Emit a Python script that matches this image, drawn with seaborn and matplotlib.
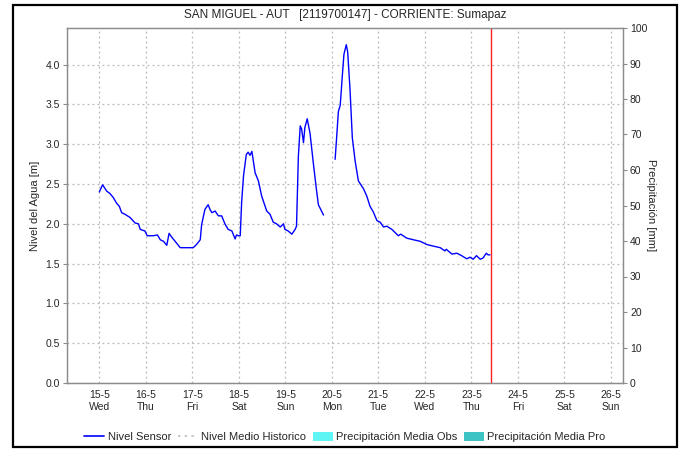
import numpy as np
import pandas as pd
import matplotlib
matplotlib.use("Agg")
import matplotlib.pyplot as plt
from matplotlib.lines import Line2D
from matplotlib.patches import Patch, Rectangle
import seaborn as sns

# Nivel sensor: days since 15-5 00:00, level in m (two segments, gap on 19/20-5)
DAYS_1 = [0.00, 0.07, 0.16, 0.23, 0.30, 0.37, 0.43, 0.48, 0.55, 0.66, 0.77, 0.84,
          0.88, 0.98, 1.03, 1.16, 1.25, 1.31, 1.38, 1.45, 1.50, 1.56, 1.63, 1.74,
          1.81, 2.02, 2.09, 2.17, 2.20, 2.27, 2.34, 2.38, 2.42, 2.49, 2.56, 2.63,
          2.70, 2.77, 2.85, 2.92, 2.95, 2.99, 3.03, 3.06, 3.10, 3.16, 3.20, 3.24,
          3.28, 3.35, 3.42, 3.49, 3.60, 3.67, 3.74, 3.81, 3.89, 3.96, 3.99, 4.06,
          4.14, 4.21, 4.24, 4.28, 4.32, 4.35, 4.39, 4.42, 4.47, 4.53, 4.60, 4.66,
          4.71, 4.82]
LEVEL_1 = [2.40, 2.49, 2.41, 2.38, 2.33, 2.26, 2.22, 2.14, 2.12, 2.08, 2.01, 2.00,
           1.93, 1.91, 1.85, 1.85, 1.86, 1.80, 1.78, 1.73, 1.88, 1.83, 1.78, 1.70,
           1.70, 1.70, 1.74, 1.80, 1.99, 2.18, 2.24, 2.18, 2.14, 2.16, 2.10, 2.10,
           2.00, 1.93, 1.91, 1.81, 1.86, 1.85, 1.85, 2.27, 2.60, 2.87, 2.90, 2.86,
           2.91, 2.64, 2.54, 2.35, 2.16, 2.12, 2.02, 2.00, 1.96, 2.00, 1.93, 1.91,
           1.87, 1.93, 1.97, 2.85, 3.23, 3.19, 3.02, 3.21, 3.32, 3.14, 2.77, 2.47,
           2.24, 2.11]
DAYS_2 = [5.07, 5.10, 5.14, 5.18, 5.23, 5.26, 5.31, 5.34, 5.39, 5.44, 5.50, 5.57,
          5.68, 5.75, 5.82, 5.89, 5.97, 6.04, 6.11, 6.18, 6.29, 6.43, 6.48, 6.61,
          6.75, 6.90, 7.04, 7.18, 7.33, 7.43, 7.46, 7.58, 7.69, 7.79, 7.90, 7.97,
          8.04, 8.11, 8.19, 8.25, 8.32, 8.36, 8.40]
LEVEL_2 = [2.81, 3.06, 3.41, 3.49, 3.90, 4.13, 4.25, 4.16, 3.69, 3.08, 2.79, 2.54,
           2.44, 2.35, 2.22, 2.15, 2.04, 2.02, 1.96, 1.97, 1.93, 1.85, 1.87, 1.82,
           1.80, 1.78, 1.74, 1.72, 1.70, 1.66, 1.68, 1.62, 1.63, 1.60, 1.56, 1.58,
           1.555, 1.60, 1.555, 1.57, 1.63, 1.61, 1.61]

NOW_DAY = 8.42
DATE_LABELS = ["15-5", "16-5", "17-5", "18-5", "19-5", "20-5",
               "21-5", "22-5", "23-5", "24-5", "25-5", "26-5"]
WEEKDAYS = ["Wed", "Thu", "Fri", "Sat", "Sun", "Mon",
            "Tue", "Wed", "Thu", "Fri", "Sat", "Sun"]
LEVEL_TICKS = [0.0, 0.5, 1.0, 1.5, 2.0, 2.5, 3.0, 3.5, 4.0]
PRECIP_TICKS = [0, 10, 20, 30, 40, 50, 60, 70, 80, 90, 100]

df = pd.DataFrame({
    "day": DAYS_1 + DAYS_2,
    "nivel": LEVEL_1 + LEVEL_2,
    "seg": [1] * len(DAYS_1) + [2] * len(DAYS_2),
})

sns.set_style("white")
plt.rcParams["font.family"] = ["Liberation Sans", "DejaVu Sans"]

GRAY = "#8c8c8c"
DOTS = (0, (1.5, 2.5))
fig = plt.figure(figsize=(6.84, 4.49), dpi=100)
ax = fig.add_axes([67 / 684, 66 / 449, 556 / 684, 355 / 449])

sns.lineplot(data=df, x="day", y="nivel", units="seg", estimator=None,
             color="#0000FF", linewidth=1.0, ax=ax)
ax.axvline(NOW_DAY, color="#FF2020", linewidth=1.0, zorder=5)

ax.set_xlim(-0.695, 11.26)
ax.set_ylim(0, 4.46)
ax.set_xticks(range(len(DATE_LABELS)))
ax.set_xticklabels([f"{d}\n{w}" for d, w in zip(DATE_LABELS, WEEKDAYS)], fontsize=7.5)
ax.set_yticks(LEVEL_TICKS)
ax.set_yticklabels([f"{v:.1f}" for v in LEVEL_TICKS], fontsize=7.5)
ax.set_xlabel("")
ax.set_ylabel("Nivel del Agua [m]", fontsize=8, labelpad=4)
ax.grid(True, color="#b8b8b8", linestyle=DOTS, linewidth=0.9)
ax.tick_params(axis="both", length=3, width=0.8, color=GRAY, pad=2)
for s in ax.spines.values():
    s.set_color(GRAY)
    s.set_linewidth(0.9)
ax.set_title("SAN MIGUEL - AUT   [2119700147] - CORRIENTE: Sumapaz",
             fontsize=8.5, pad=7)

ax2 = ax.twinx()
ax2.set_ylim(0, 100)
ax2.set_yticks(PRECIP_TICKS)
ax2.set_yticklabels([str(v) for v in PRECIP_TICKS], fontsize=7.5)
ax2.set_ylabel("Precipitación [mm]", fontsize=8, rotation=-90, labelpad=6)
ax2.tick_params(axis="y", length=3, width=0.8, color=GRAY, pad=2)
for s in ax2.spines.values():
    s.set_color(GRAY)
    s.set_linewidth(0.9)

handles = [
    Line2D([], [], color="#0000FF", linewidth=1.2),
    Line2D([], [], color="#c0c0c0", linestyle=DOTS, linewidth=1.2),
    Patch(facecolor="#5ff5f5", edgecolor="none"),
    Patch(facecolor="#3cc4c4", edgecolor="none"),
]
labels = ["Nivel Sensor", "Nivel Medio Historico",
          "Precipitación Media Obs", "Precipitación Media Pro"]
fig.legend(handles, labels, loc="center", bbox_to_anchor=(345 / 684, 1 - 437 / 449),
           ncol=4, frameon=False, fontsize=8, handlelength=1.8, handleheight=0.9,
           handletextpad=0.3, columnspacing=0.6)

fig.add_artist(Rectangle((13 / 684, 2 / 449), 664 / 684, 442 / 449,
                         transform=fig.transFigure, fill=False,
                         edgecolor="black", linewidth=1.6))

fig.savefig("out.png", dpi=100)
